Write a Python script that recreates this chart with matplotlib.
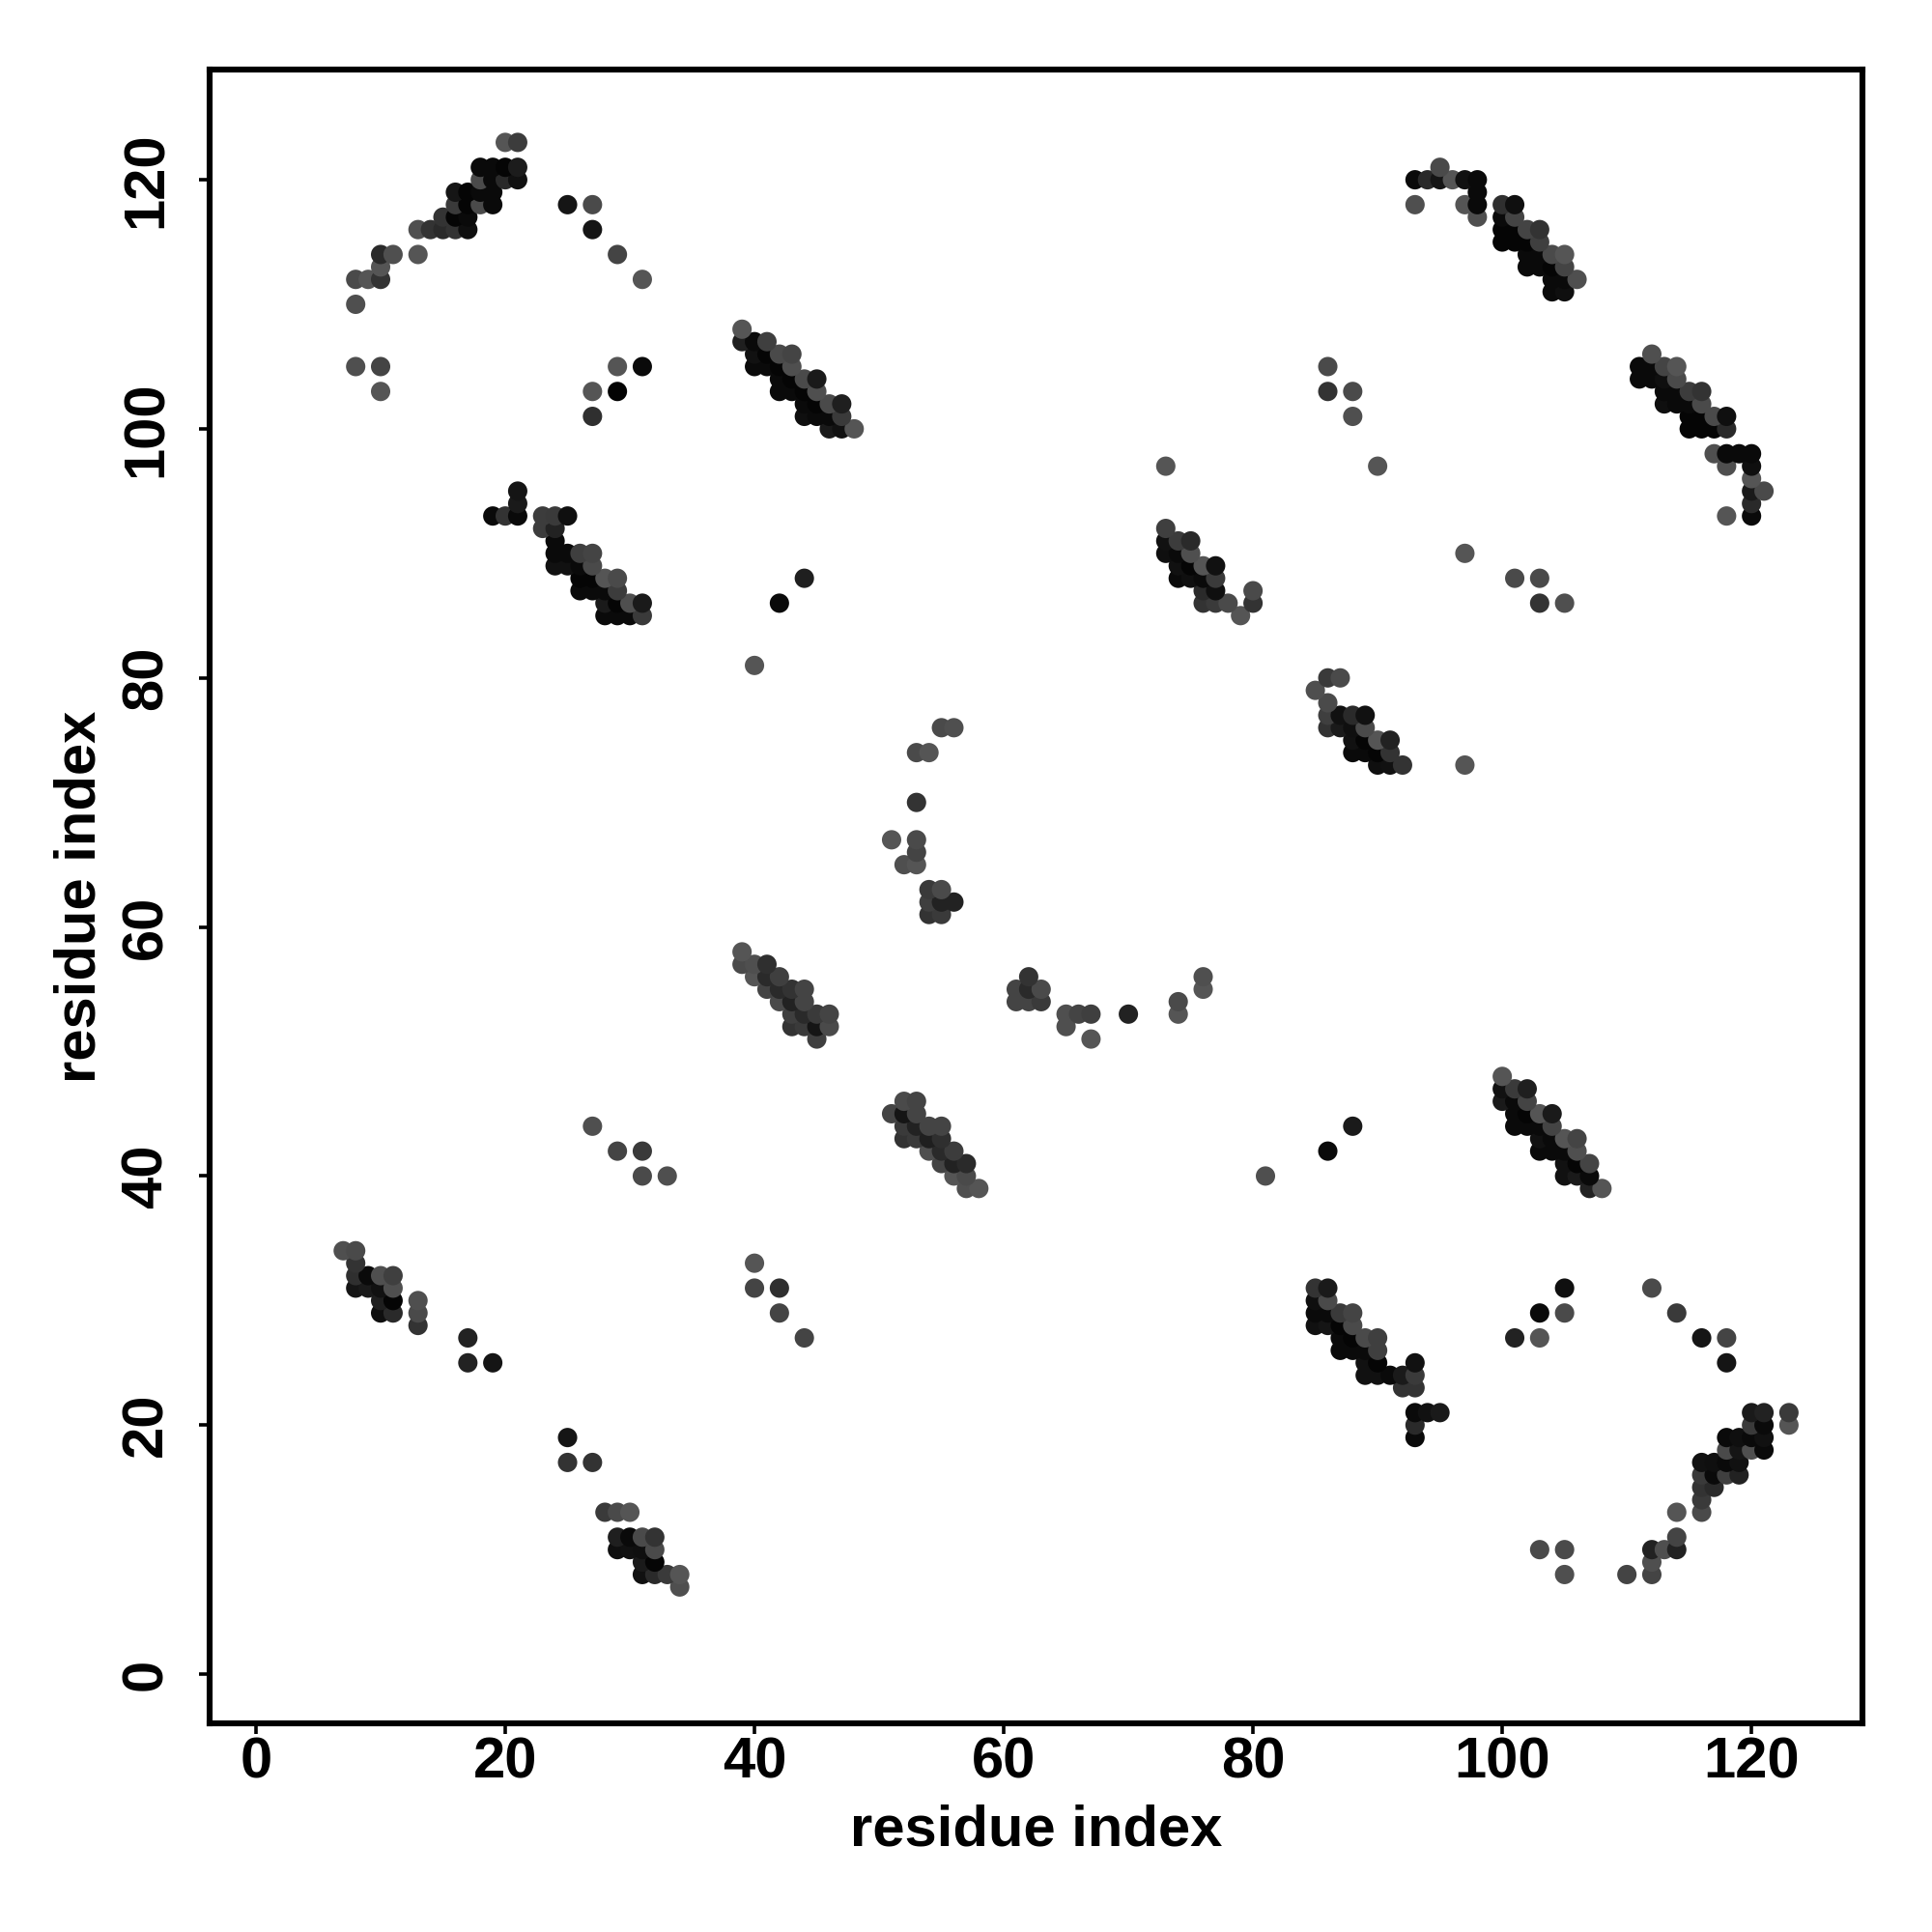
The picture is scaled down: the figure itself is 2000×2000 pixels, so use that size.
import matplotlib
matplotlib.use("Agg")
import matplotlib.pyplot as plt

# (residue x, residue y, grey level 0-255) for each group of contacts
top_left = [
    (20,123,0x55),(21,123,0x3c),(18,121,0x0a),(19,121,0x0a),(20,121,0x05),(21,121,0x1c),
    (18,120,0x4a),(19,120,0x0a),(20,120,0x2a),(21,120,0x11),(16,119,0x15),(17,119,0x05),
    (18,119,0x0a),(19,119,0x0a),(16,118,0x3a),(17,118,0x05),(18,118,0x4a),(19,118,0x0a),
    (15,117,0x33),(16,117,0x05),(17,117,0x0a),(13,116,0x4f),(14,116,0x33),(15,116,0x2a),
    (16,116,0x33),(17,116,0x0f),(10,114,0x2a),(11,114,0x4f),(13,114,0x55),(10,113,0x55),
    (8,112,0x4a),(9,112,0x55),(10,112,0x33),(8,110,0x4f),(8,105,0x4f),(10,105,0x44),(10,103,0x55),
]
top_mid = [
    (25,118,0x15),(27,118,0x4a),(27,116,0x15),(29,114,0x44),(31,112,0x55),(29,105,0x55),
    (31,105,0x0a),(27,103,0x55),(29,103,0x03),(27,101,0x2f),
]
top_right = [
    (95,121,0x4a),(93,120,0x0a),(94,120,0x2a),(95,120,0x15),(96,120,0x55),(97,120,0x11),(98,120,0x0a),
    (98,119,0x0a),(93,118,0x4f),(97,118,0x55),(98,118,0x0a),(98,117,0x4f),
    (100,118,0x2f),(101,118,0x0f),(100,117,0x0a),(101,117,0x44),(100,116,0x05),(101,116,0x05),
    (102,116,0x44),(103,116,0x33),(100,115,0x05),(101,115,0x05),(102,115,0x05),(103,115,0x3f),
    (102,114,0x0a),(103,114,0x0a),(104,114,0x4a),(105,114,0x55),(102,113,0x0a),(103,113,0x0a),
    (104,113,0x05),(105,113,0x44),(104,112,0x0a),(105,112,0x0a),(106,112,0x4f),(104,111,0x0a),(105,111,0x0f),
]
far_right = [
    (112,106,0x4f),(111,105,0x0a),(112,105,0x0a),(113,105,0x44),(114,105,0x55),(111,104,0x0a),
    (112,104,0x0a),(113,104,0x0f),(114,104,0x4a),(113,103,0x0a),(114,103,0x0a),(115,103,0x3c),
    (116,103,0x33),(113,102,0x0f),(114,102,0x0a),(115,102,0x0a),(116,102,0x4a),(115,101,0x05),
    (116,101,0x05),(117,101,0x4a),(118,101,0x0f),(115,100,0x05),(116,100,0x05),(117,100,0x05),
    (118,100,0x2a),(117,98,0x4f),(118,98,0x0a),(119,98,0x0a),(120,98,0x0a),(118,97,0x4f),
    (120,97,0x0f),(120,96,0x55),(120,95,0x1a),(121,95,0x4a),(120,94,0x2a),(118,93,0x55),(120,93,0x0a),
]
strand_39_108 = [
    (39,108,0x55),(39,107,0x1f),(40,107,0x0a),(41,107,0x3f),(40,106,0x11),(41,106,0x05),
    (42,106,0x4a),(43,106,0x44),(40,105,0x0a),(41,105,0x0a),(42,105,0x05),(43,105,0x4f),
    (42,104,0x0a),(43,104,0x05),(44,104,0x4a),(45,104,0x1a),(42,103,0x0a),(43,103,0x0a),
    (44,103,0x05),(45,103,0x4f),(44,102,0x0a),(45,102,0x05),(46,102,0x4a),(47,102,0x1f),
    (44,101,0x0f),(45,101,0x0a),(46,101,0x0a),(47,101,0x3a),(46,100,0x1a),(47,100,0x11),(48,100,0x55),
]
strand_19_95 = [
    (21,95,0x15),(21,94,0x1a),(19,93,0x0a),(20,93,0x33),(21,93,0x0a),(23,93,0x3c),(24,93,0x3a),
    (25,93,0x0f),(23,92,0x3c),(24,92,0x22),(24,91,0x0a),(24,90,0x0a),(25,90,0x0a),(26,90,0x3f),
    (27,90,0x44),(24,89,0x11),(25,89,0x11),(26,89,0x0a),(27,89,0x4a),(26,88,0x05),(27,88,0x05),
    (28,88,0x55),(29,88,0x4a),(26,87,0x0a),(27,87,0x0a),(28,87,0x0a),(29,87,0x3c),(28,86,0x1a),
    (29,86,0x05),(30,86,0x4f),(31,86,0x1a),(28,85,0x0a),(29,85,0x0a),(30,85,0x0a),(31,85,0x3a),
]
strand_73_92 = [
    (73,92,0x3f),(73,91,0x11),(74,91,0x3c),(75,91,0x2a),(73,90,0x0f),(74,90,0x0a),(75,90,0x4f),
    (74,89,0x11),(75,89,0x05),(76,89,0x55),(77,89,0x11),(74,88,0x0a),(75,88,0x0f),(76,88,0x0a),
    (77,88,0x3a),(76,87,0x2a),(77,87,0x0f),(80,87,0x4a),(76,86,0x33),(77,86,0x3a),(78,86,0x4a),
    (80,86,0x33),(79,85,0x55),
]
strand_85_80 = [
    (86,80,0x3a),(87,80,0x4a),(85,79,0x4f),(86,78,0x4a),(86,77,0x3f),(87,77,0x11),(88,77,0x2a),
    (89,77,0x11),(86,76,0x33),(87,76,0x1a),(88,76,0x0f),(89,76,0x4a),(88,75,0x11),(89,75,0x05),
    (90,75,0x55),(91,75,0x22),(88,74,0x0a),(89,74,0x0a),(90,74,0x05),(91,74,0x33),(90,73,0x0f),
    (91,73,0x11),(92,73,0x33),
]
strand_39_58 = [
    (39,58,0x55),(39,57,0x4a),(40,57,0x4f),(41,57,0x2f),(40,56,0x55),(41,56,0x2a),(42,56,0x3f),
    (41,55,0x44),(42,55,0x2a),(43,55,0x33),(44,55,0x44),(42,54,0x4a),(43,54,0x22),(44,54,0x44),
    (43,53,0x3f),(44,53,0x2a),(45,53,0x3a),(46,53,0x44),(43,52,0x33),(44,52,0x3a),(45,52,0x15),
    (46,52,0x4a),(45,51,0x3f),
]
strand_51_46 = [
    (52,46,0x4a),(53,46,0x44),(51,45,0x44),(52,45,0x15),(53,45,0x44),(52,44,0x3a),(53,44,0x22),
    (54,44,0x44),(55,44,0x44),(52,43,0x33),(53,43,0x3a),(54,43,0x1f),(55,43,0x2f),(54,42,0x4f),
    (55,42,0x2a),(56,42,0x3c),(55,41,0x44),(56,41,0x22),(57,41,0x2a),(56,40,0x55),(57,40,0x4a),
    (57,39,0x4f),(58,39,0x55),
]
strand_100_48 = [
    (100,48,0x55),(100,47,0x11),(101,47,0x3a),(102,47,0x1f),(100,46,0x1a),(101,46,0x0a),(102,46,0x44),
    (101,45,0x0a),(102,45,0x05),(103,45,0x55),(104,45,0x1a),(101,44,0x0a),(102,44,0x0a),(103,44,0x0a),
    (104,44,0x44),(103,43,0x11),(104,43,0x0a),(105,43,0x55),(106,43,0x44),(103,42,0x0a),(104,42,0x0a),
    (105,42,0x0a),(106,42,0x4f),(105,41,0x11),(106,41,0x05),(107,41,0x44),(105,40,0x11),(106,40,0x1a),
    (107,40,0x0a),(107,39,0x22),(108,39,0x55),
]
strand_7_34 = [
    (7,34,0x4f),(8,34,0x4a),(8,33,0x33),(8,32,0x2f),(9,32,0x0a),(10,32,0x4f),(11,32,0x3f),
    (8,31,0x15),(9,31,0x1a),(10,31,0x11),(11,31,0x4f),(10,30,0x1f),(11,30,0x05),(13,30,0x4f),
    (10,29,0x0f),(11,29,0x2a),(13,29,0x4a),(13,28,0x33),
]
strand_85_31 = [
    (85,31,0x33),(86,31,0x1a),(85,30,0x0f),(86,30,0x4a),(85,29,0x0a),(86,29,0x0a),(87,29,0x3a),
    (88,29,0x44),(85,28,0x11),(86,28,0x15),(87,28,0x05),(88,28,0x4a),(87,27,0x0a),(88,27,0x05),
    (89,27,0x4a),(90,27,0x3f),(87,26,0x0a),(88,26,0x0a),(89,26,0x0a),(90,26,0x3f),(89,25,0x11),
    (90,25,0x05),(93,25,0x11),(89,24,0x11),(90,24,0x11),(91,24,0x0a),(92,24,0x1a),(93,24,0x3a),
    (92,23,0x33),(93,23,0x33),(93,21,0x0a),(94,21,0x11),(95,21,0x1a),(93,20,0x2a),(93,19,0x0a),
]
low_right = [
    (120,21,0x1a),(121,21,0x22),(123,21,0x3a),(120,20,0x3a),(121,20,0x0a),(123,20,0x55),
    (118,19,0x0a),(119,19,0x0f),(120,19,0x0a),(121,19,0x11),(118,18,0x4a),(119,18,0x15),
    (120,18,0x4f),(121,18,0x0a),(116,17,0x11),(117,17,0x0f),(118,17,0x0a),(119,17,0x11),
    (116,16,0x3a),(117,16,0x0a),(118,16,0x3f),(119,16,0x22),(116,15,0x33),(117,15,0x2a),
    (116,14,0x3a),(116,13,0x4a),(114,13,0x55),(114,11,0x44),(112,10,0x22),(113,10,0x4f),
    (114,10,0x22),(112,9,0x4f),(110,8,0x44),(112,8,0x44),(103,10,0x4a),(105,10,0x4a),(105,8,0x4f),
]
low_left = [
    (28,13,0x3a),(29,13,0x4a),(30,13,0x55),(29,11,0x1f),(30,11,0x0a),(31,11,0x4a),(32,11,0x33),
    (29,10,0x0f),(30,10,0x11),(31,10,0x0f),(32,10,0x4a),(31,9,0x1a),(32,9,0x05),(31,8,0x11),
    (32,8,0x2a),(33,8,0x3a),(34,8,0x55),(34,7,0x4f),
]
centre = [
    (55,76,0x4a),(56,76,0x4f),(53,74,0x4a),(54,74,0x55),(53,70,0x33),(51,67,0x55),(53,67,0x4a),
    (53,66,0x44),(52,65,0x4f),(53,65,0x55),(54,63,0x3a),(55,63,0x4a),(54,62,0x3f),(55,62,0x22),
    (56,62,0x22),(54,61,0x33),(55,61,0x3a),(62,56,0x33),(61,55,0x44),(62,55,0x2a),(63,55,0x4a),
    (61,54,0x44),(62,54,0x44),(63,54,0x3a),(65,53,0x4f),(66,53,0x44),(67,53,0x3f),(70,53,0x22),
    (65,52,0x4f),(67,51,0x55),(74,54,0x4a),(74,53,0x55),(76,56,0x4f),(76,55,0x55),
]
scattered = [
    (86,105,0x4a),(86,103,0x33),(88,103,0x4a),(88,101,0x4f),(90,97,0x55),(73,97,0x55),(97,90,0x55),
    (101,88,0x4a),(103,88,0x4a),(103,86,0x33),(105,86,0x4f),(44,88,0x1f),(42,86,0x0a),(40,81,0x55),
    (97,73,0x55),(27,44,0x4f),(29,42,0x44),(31,42,0x3a),(31,40,0x4a),(33,40,0x4f),(88,44,0x1a),
    (86,42,0x0a),(81,40,0x4f),(40,33,0x55),(40,31,0x44),(42,31,0x2f),(42,29,0x44),(44,27,0x44),
    (17,27,0x22),(17,25,0x22),(19,25,0x15),(25,19,0x15),(25,17,0x33),(27,17,0x33),(105,31,0x0f),
    (103,29,0x0a),(105,29,0x4a),(101,27,0x22),(103,27,0x55),(112,31,0x4a),(114,29,0x3a),(116,27,0x15),
    (118,27,0x44),(118,25,0x15),
]

groups = [top_left, top_mid, top_right, far_right, strand_39_108, strand_19_95, strand_73_92,
          strand_85_80, strand_39_58, strand_51_46, strand_100_48, strand_7_34, strand_85_31,
          low_right, low_left, centre, scattered]

tick_vals = [0, 20, 40, 60, 80, 100, 120]

# upper rows paint over lower ones, right over left
points = sorted((p for g in groups for p in g), key=lambda p: (p[1], p[0]))
xs = [p[0] for p in points]
ys = [p[1] for p in points]
colors = [(p[2] / 255, p[2] / 255, p[2] / 255) for p in points]

plt.rcParams['font.family'] = ['Liberation Sans', 'DejaVu Sans']
plt.rcParams['font.weight'] = 'bold'

fig = plt.figure(figsize=(10, 10), dpi=200)
ax = fig.add_axes([217 / 2000, 1 - 1784 / 2000, (1928 - 217) / 2000, (1784 - 72) / 2000])
ax.scatter(xs, ys, s=52, c=colors, linewidths=0, zorder=3)

ax.set_xlim(-3.72, 128.9)
ax.set_ylim(-3.95, 128.85)
ax.set_xticks(tick_vals)
ax.set_yticks(tick_vals)
ax.tick_params(axis='both', length=4, width=1.3, labelsize=21.5)
ax.tick_params(axis='x', pad=1)
ax.tick_params(axis='y', pad=9.5)
for lab in ax.get_yticklabels():
    lab.set_rotation(90)
    lab.set_va('center')
for sp in ax.spines.values():
    sp.set_linewidth(2.2)

ax.set_xlabel('residue index', fontsize=21.5, fontweight='bold', labelpad=5.2)
ax.set_ylabel('residue index', fontsize=21.5, fontweight='bold', labelpad=5.2)

fig.savefig('out.png', dpi=200)
